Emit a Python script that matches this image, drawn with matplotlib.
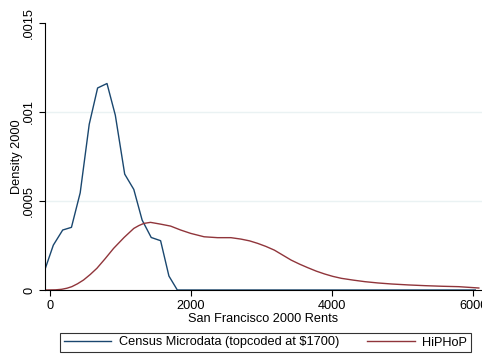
import matplotlib
matplotlib.use("Agg")
import matplotlib.pyplot as plt
from matplotlib.lines import Line2D

plt.rcParams['font.family'] = ['Liberation Sans', 'DejaVu Sans']

# Census microdata kernel density (topcoded at $1700)
census_rent = [-71, 47, 180, 304, 428, 556, 675, 808, 926, 1059, 1188, 1306,
               1435, 1568, 1686, 1805, 6030]
census_dens = [0.000116, 0.000252, 0.000337, 0.000352, 0.000546, 0.000931,
               0.001135, 0.00116, 0.000982, 0.000651, 0.000565, 0.000393,
               0.000295, 0.000277, 0.0000785, 0.0, 0.0]

# HiPHoP kernel density
hiphop_rent = [-71, 80, 166, 240, 309, 390, 475, 570, 665, 780, 902, 1050,
               1188, 1260, 1330, 1425, 1568, 1710, 1852, 1995, 2185, 2375,
               2565, 2707, 2830, 2944, 3060, 3181, 3300, 3419, 3540, 3657,
               3775, 3895, 4010, 4132, 4300, 4465, 4650, 4845, 5080, 5320,
               5560, 5795, 6080]
hiphop_dens = [0.0, 0.000001, 0.000004, 0.00001, 0.0000187, 0.000035,
               0.000056, 0.000087, 0.000122, 0.000175, 0.000234, 0.000295,
               0.000346, 0.000362, 0.000374, 0.00038, 0.00037, 0.000359,
               0.000337, 0.000318, 0.000299, 0.000294, 0.000294, 0.000286,
               0.000276, 0.000262, 0.000245, 0.000224, 0.000196, 0.000168,
               0.000145, 0.000125, 0.000106, 0.0000898, 0.0000765, 0.0000655,
               0.0000555, 0.0000468, 0.0000395, 0.0000337, 0.0000285,
               0.0000243, 0.000021, 0.0000187, 0.0000112]

xticks = [0, 2000, 4000, 6000]
yticks = [0, 0.0005, 0.001, 0.0015]
ytick_labels = ['0', '.0005', '.001', '.0015']

NAVY = '#1a476f'
MAROON = '#90353b'
GRID = '#eaf2f3'
FS = 9.2

fig = plt.figure(figsize=(4.82, 3.55), dpi=100)
ax = fig.add_axes([45 / 482, 65 / 355, 437 / 482, 267 / 355])

ax.plot(census_rent, census_dens, color=NAVY, linewidth=1.0)
ax.plot(hiphop_rent, hiphop_dens, color=MAROON, linewidth=1.0)

ax.set_xlim(-71, 6125)
ax.set_ylim(0, 0.0015)
ax.set_xticks(xticks)
ax.set_yticks(yticks)
ax.set_yticklabels(ytick_labels, rotation=90, va='center')
ax.tick_params(labelsize=FS, direction='out', length=4, width=0.8, pad=3)

for y in [0.0005, 0.001]:
    ax.axhline(y, color=GRID, linewidth=1.0, zorder=0)

for s in ['top', 'right']:
    ax.spines[s].set_visible(False)
for s in ['left', 'bottom']:
    ax.spines[s].set_linewidth(0.8)

ax.set_xlabel('San Francisco 2000 Rents', fontsize=FS, labelpad=1)
ax.set_ylabel('Density 2000', fontsize=FS, labelpad=0)

handles = [Line2D([], [], color=NAVY, linewidth=1.0),
           Line2D([], [], color=MAROON, linewidth=1.0)]
leg = fig.legend(handles, ['Census Microdata (topcoded at $1700)', 'HiPHoP'],
                 ncol=2, loc='center', bbox_to_anchor=(265.5 / 482, 1 - 342.5 / 355),
                 fontsize=FS, frameon=True, fancybox=False, edgecolor='black',
                 handlelength=3.7, columnspacing=2.2, borderpad=0.3,
                 handletextpad=0.6, borderaxespad=0)
leg.get_frame().set_linewidth(0.8)

fig.savefig('out.png', dpi=100)
